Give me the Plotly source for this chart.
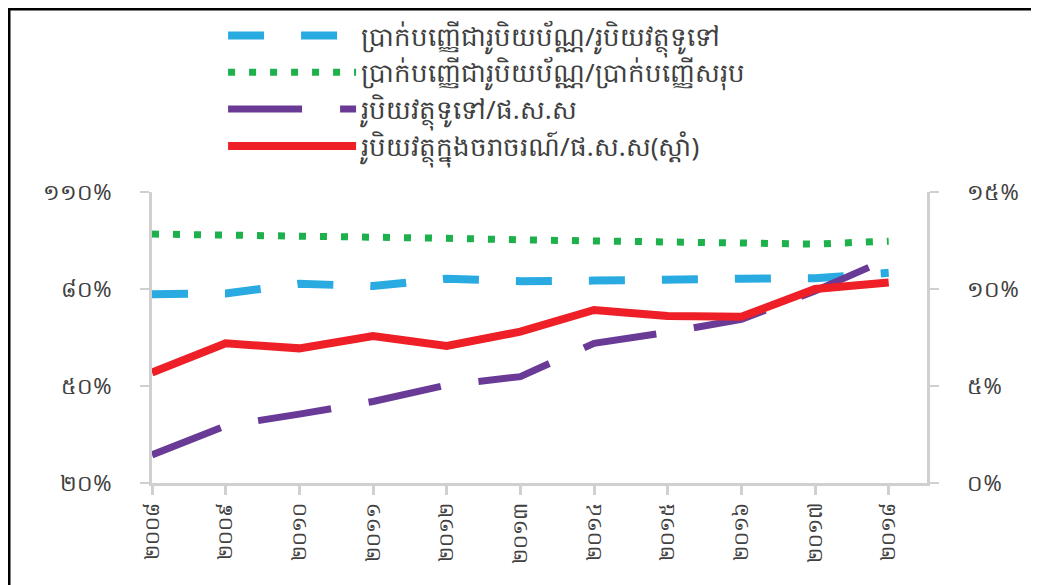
import plotly.graph_objects as go

years_kh = ['២០០៨', '២០០៩', '២០១០', '២០១១', '២០១២', '២០១៣',
            '២០១៤', '២០១៥', '២០១៦', '២០១៧', '២០១៨']

names = [
    'ប្រាក់បញ្ញើជារូបិយប័ណ្ណ/រូបិយវត្ថុទូទៅ',
    'ប្រាក់បញ្ញើជារូបិយប័ណ្ណ/ប្រាក់បញ្ញើសរុប',
    'រូបិយវត្ថុទូទៅ/ផ.ស.ស',
    'រូបិយវត្ថុក្នុងចរាចរណ៍/ផ.ស.ស(ស្តាំ)',
]

# left axis series (%)
deposit_fx_m2 = [78.4, 78.6, 81.6, 80.9, 83.2, 82.4, 82.6, 83.1, 83.2, 83.3, 85.0]
deposit_fx_total = [97.0, 96.7, 96.8, 96.2, 95.7, 95.2, 94.9, 94.4, 93.9, 93.9, 94.8]
m2_gdp = [28.7, 37.7, 41.3, 45.2, 50.3, 52.9, 63.2, 66.6, 70.6, 79.4, 89.4]
# right axis series (%)
currency_gdp = [5.69, 7.20, 6.94, 7.58, 7.06, 7.80, 8.92, 8.61, 8.57, 10.0, 10.33]

left_ticks = [20, 50, 80, 110]
left_tick_text = ['២០%', '៥០%', '៨០%', '១១០%']
right_ticks = [0, 5, 10, 15]
right_tick_text = ['០%', '៥%', '១០%', '១៥%']

x = list(range(len(years_kh)))
FONT = 'Noto Sans, DejaVu Sans, sans-serif'
AX = '#D0D0D0'

fig = go.Figure()
fig.add_trace(go.Scatter(x=x, y=deposit_fx_m2, name=names[0], mode='lines',
                         line=dict(color='#29ABE2', width=8, dash='36px,37px')))
fig.add_trace(go.Scatter(x=x, y=deposit_fx_total, name=names[1], mode='lines',
                         line=dict(color='#1DB14B', width=7, dash='7px,14px')))
fig.add_trace(go.Scatter(x=x, y=m2_gdp, name=names[2], mode='lines',
                         line=dict(color='#6A3A97', width=7, dash='74px,38px')))
fig.add_trace(go.Scatter(x=x, y=currency_gdp, name=names[3], mode='lines', yaxis='y2',
                         line=dict(color='#EE1F26', width=8)))

L, T = 144, 184
PW, PH = 775, 291
W, H = 1039, 585
fig.update_layout(
    width=W, height=H,
    margin=dict(l=L, r=W - L - PW, t=T, b=H - T - PH, autoexpand=False),
    paper_bgcolor='white', plot_bgcolor='white',
    font=dict(family=FONT, color='#404040'),
    showlegend=True,
    legend=dict(xref='container', yref='container', x=0.207, y=0.993,
                xanchor='left', yanchor='top', font=dict(size=26, color='#404040'),
                itemwidth=128, bgcolor='rgba(0,0,0,0)', tracegroupgap=0),
    xaxis=dict(range=[0, 10.52], tickvals=x, ticktext=years_kh, tickangle=-90,
               showgrid=False, zeroline=False, showline=True, linecolor=AX, linewidth=3,
               ticks='outside', ticklen=9, tickwidth=3, tickcolor=AX,
               tickfont=dict(size=20, color='#404040')),
    yaxis=dict(range=[20, 110], tickvals=left_ticks, ticktext=left_tick_text,
               showgrid=False, zeroline=False, showline=True, linecolor=AX, linewidth=3,
               ticks='outside', ticklen=9, tickwidth=2, tickcolor=AX,
               ticklabelstandoff=24, tickfont=dict(size=22, color='#404040')),
    yaxis2=dict(range=[0, 15], tickvals=right_ticks, ticktext=right_tick_text,
                overlaying='y', side='right', anchor='x',
                showgrid=False, zeroline=False, showline=True, linecolor=AX, linewidth=3,
                ticks='outside', ticklen=9, tickwidth=2, tickcolor=AX,
                ticklabelstandoff=24, tickfont=dict(size=22, color='#404040')),
    shapes=[
        dict(type='line', xref='paper', yref='paper', x0=-L / PW, x1=1.2,
             y0=1 + (T - 1) / PH, y1=1 + (T - 1) / PH,
             line=dict(color='black', width=3)),
        dict(type='line', xref='paper', yref='paper', x0=-(L - 1) / PW, x1=-(L - 1) / PW,
             y0=-0.5, y1=1 + T / PH,
             line=dict(color='black', width=3)),
    ],
)

fig.write_html('out.html')
